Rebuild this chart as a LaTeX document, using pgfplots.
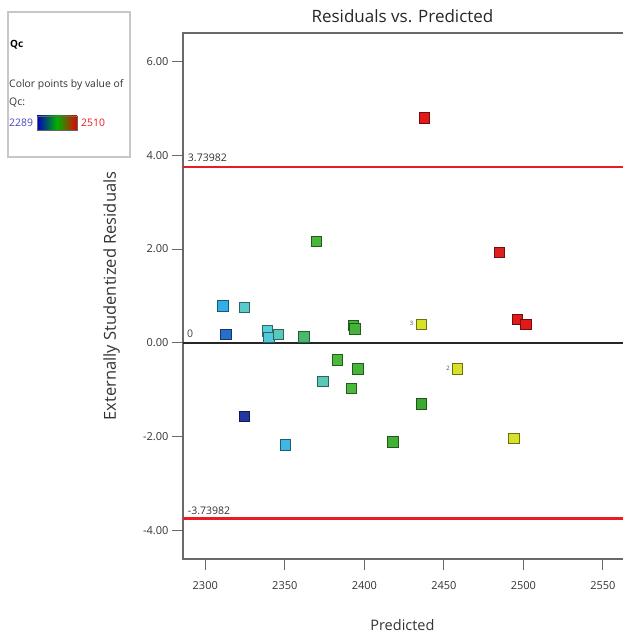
\documentclass[border=0pt]{standalone}
\usepackage{fontspec}
\setmainfont{Open Sans}
\usepackage{pgfplots}
\pgfplotsset{compat=1.18}

\definecolor{axisgray}{RGB}{105,105,105}
\definecolor{limred}{RGB}{232,28,34}
\definecolor{lowblue}{RGB}{70,70,190}

% colour scale of Qc, positions are Qc - 2289
\pgfplotsset{colormap={qc}{
  rgb255(0pt)=(35,55,160);
  rgb255(23pt)=(40,110,205);
  rgb255(41pt)=(50,175,230);
  rgb255(51pt)=(90,205,215);
  rgb255(63pt)=(90,200,180);
  rgb255(81pt)=(70,185,110);
  rgb255(96pt)=(75,185,60);
  rgb255(121pt)=(60,170,50);
  rgb255(171pt)=(215,225,40);
  rgb255(176pt)=(215,225,40);
  rgb255(216pt)=(225,30,30);
  rgb255(221pt)=(225,25,25)}}

\pgfplotstableread{
x       y      qc
2311.0  0.79   2330
2324.5  0.76   2345
2313.0  0.18   2312
2339.0  0.26   2340
2340.0  0.12   2338
2346.0  0.18   2350
2362.0  0.13   2370
2370.0  2.16   2390
2393.0  0.38   2395
2394.0  0.30   2395
2383.0  -0.36  2385
2396.0  -0.55  2392
2374.0  -0.82  2352
2392.0  -0.97  2385
2324.5  -1.57  2289
2350.5  -2.17  2333
2418.0  -2.11  2400
2437.8  4.79   2510
2485.0  1.93   2505
2435.7  0.40   2460
2496.4  0.50   2508
2501.6  0.39   2510
2458.7  -0.55  2462
2435.7  -1.30  2410
2494.0  -2.03  2462
}\resid

\begin{document}
\begin{tikzpicture}[x=1pt,y=1pt]
\path[use as bounding box] (0,0) rectangle (622,635);

% colour key
\draw[draw=black!22, line width=1.2pt] (8,478) rectangle (130,623);
\node[anchor=west, inner sep=0pt, font=\fontsize{10}{11}\selectfont\bfseries] at (10,590) {Qc};
\node[anchor=west, inner sep=0pt, font=\fontsize{10.4}{12}\selectfont, text=black!80] at (9,550) {Color points by value of};
\node[anchor=west, inner sep=0pt, font=\fontsize{10.4}{12}\selectfont, text=black!80] at (9,532) {Qc:};
\node[anchor=west, inner sep=0pt, font=\fontsize{10.4}{12}\selectfont, text=lowblue] at (9,512) {2289};
\shade[left color=blue!75!black, right color=red!90!black, middle color=green!70!black] (37,505) rectangle (77,519);
\draw[black!60, line width=0.6pt] (37,505) rectangle (77,519);
\node[anchor=west, inner sep=0pt, font=\fontsize{10.4}{12}\selectfont, text=limred] at (81,512) {2510};

\begin{axis}[
    at={(183pt,76pt)}, anchor=south west,
    scale only axis,
    width=446pt, height=526pt,
    xmin=2286, xmax=2566.4,
    ymin=-4.6, ymax=6.6,
    xtick={2300,2350,2400,2450,2500,2550},
    ytick={-4,-2,0,2,4,6},
    tick pos=left,
    tick align=outside,
    major tick length=11pt,
    axis line style={axisgray, line width=1.3pt},
    tick style={axisgray, line width=1pt},
    /pgf/number format/assume math mode=true,
    tick label style={font=\fontsize{11}{13}\selectfont, text=black!80},
    xticklabel style={/pgf/number format/1000 sep={}, yshift=-8pt},
    yticklabel style={/pgf/number format/.cd, fixed, fixed zerofill, precision=2},
    title={Residuals vs. Predicted},
    every axis title/.style={at={(axis description cs:0.492,1.032)}, anchor=center, font=\fontsize{17}{19}\selectfont, text=black!85},
    xlabel={Predicted},
    every axis x label/.style={at={(axis description cs:0.492,-0.1255)}, anchor=center, font=\fontsize{14.5}{16}\selectfont, text=black!80},
    ylabel={Externally Studentized Residuals},
    every axis y label/.style={at={(axis description cs:-0.160,0.5)}, rotate=90, anchor=center, font=\fontsize{16.5}{18}\selectfont, text=black!80},
    colormap name=qc,
    point meta min=2289, point meta max=2510,
    clip=true,
]
% limit lines and zero line
\addplot[color=limred, line width=2.3pt] coordinates {(2286,3.73982) (2570,3.73982)};
\addplot[color=limred, line width=2.3pt] coordinates {(2286,-3.73982) (2570,-3.73982)};
\addplot[color=black!85, line width=2.5pt] coordinates {(2286,0) (2570,0)};

\addplot[scatter, only marks, mark=square*, mark size=5.2pt,
    scatter/use mapped color={draw=mapped color!50!black, fill=mapped color, line width=0.8pt},
    point meta=explicit]
    table[x=x, y=y, meta=qc] {\resid};

\node[anchor=west, inner sep=0pt, font=\fontsize{10.5}{12}\selectfont, text=black!80] at (axis cs:2289,3.95) {3.73982};
\node[anchor=west, inner sep=0pt, font=\fontsize{10.5}{12}\selectfont, text=black!80] at (axis cs:2289,-3.57) {-3.73982};
\node[anchor=west, inner sep=0pt, font=\fontsize{10.5}{12}\selectfont, text=black!75] at (axis cs:2288.5,0.19) {0};
\node[anchor=east, inner sep=1pt, font=\fontsize{6}{7}\selectfont, text=black!70] at (axis cs:2431.5,0.42) {3};
\node[anchor=east, inner sep=1pt, font=\fontsize{6}{7}\selectfont, text=black!70] at (axis cs:2454.5,-0.53) {2};
\end{axis}
\end{tikzpicture}
\end{document}
